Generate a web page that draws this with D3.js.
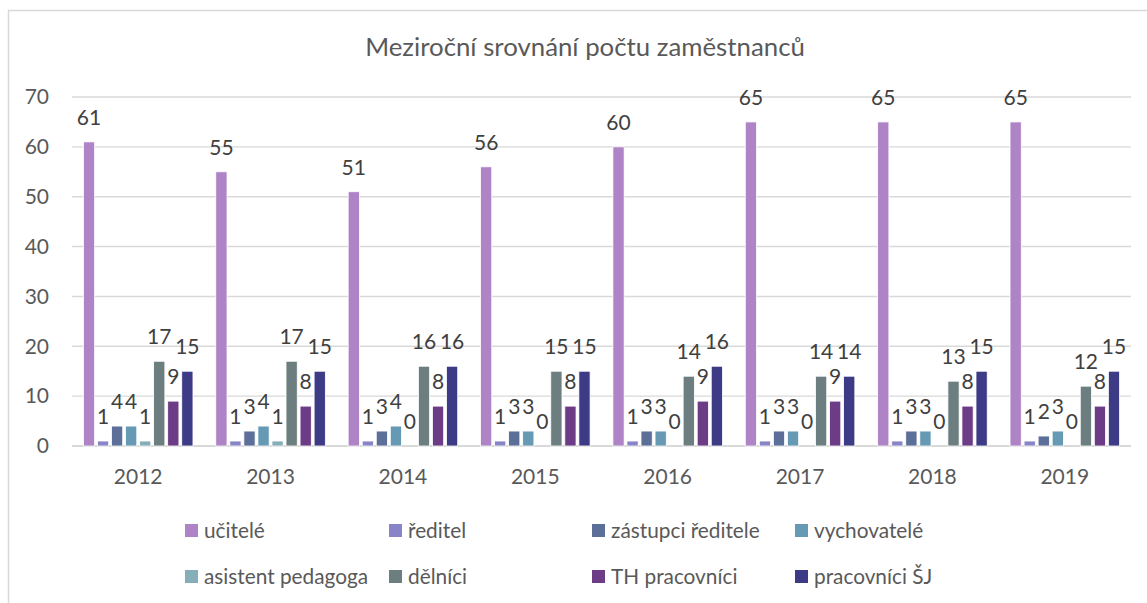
<!DOCTYPE html>
<html>
<head>
<meta charset="utf-8">
<script src="https://cdn.jsdelivr.net/npm/d3@7"></script>
<style>
  body { margin: 0; background: #fff; }
  svg { display: block; font-family: Lato, "Open Sans", sans-serif; }
</style>
</head>
<body>
<svg id="chart" width="1147" height="603"></svg>
<script>
let years = ["2012", "2013", "2014", "2015", "2016", "2017", "2018", "2019"];
let seriesNames = ["učitelé", "ředitel", "zástupci ředitele", "vychovatelé",
	"asistent pedagoga", "dělníci", "TH pracovníci", "pracovníci ŠJ"];
let ucitele = [61, 55, 51, 56, 60, 65, 65, 65];
let reditel = [1, 1, 1, 1, 1, 1, 1, 1];
let zastupci = [4, 3, 3, 3, 3, 3, 3, 2];
let vychovatele = [4, 4, 4, 3, 3, 3, 3, 3];
let asistent = [1, 1, 0, 0, 0, 0, 0, 0];
let delnici = [17, 17, 16, 15, 14, 14, 13, 12];
let thPracovnici = [9, 8, 8, 8, 9, 9, 8, 8];
let pracovniciSJ = [15, 15, 16, 15, 16, 14, 15, 15];
let yTicks = [0, 10, 20, 30, 40, 50, 60, 70];
let colors = ["#ae84c6", "#8984c8", "#5b6f98", "#6699b3", "#85aeb8", "#6d7e80", "#6d3c86", "#3e3b86"];

let allSeries = [ucitele, reditel, zastupci, vychovatele, asistent, delnici, thPracovnici, pracovniciSJ];

let svg = d3.select("#chart");

// outer chart border (runs off the right/bottom edge)
svg.append("rect")
	.attr("x", 8.5).attr("y", 10.5)
	.attr("width", 1200).attr("height", 700)
	.attr("fill", "none")
	.attr("stroke", "#d9d9d9")
	.attr("stroke-width", 1.5);

svg.append("text")
	.attr("x", 585).attr("y", 56)
	.attr("text-anchor", "middle")
	.attr("font-size", 25.8)
	.attr("fill", "#595959")
	.text("Meziroční srovnání počtu zaměstnanců");

let plot = { left: 72, right: 1131, top: 97, bottom: 446 };

let y = d3.scaleLinear().domain([0, 70]).range([plot.bottom, plot.top]);
let x0 = d3.scaleBand().domain(years).range([plot.left, plot.right]).padding(0);
let x1 = d3.scaleBand().domain(d3.range(seriesNames.length))
	.range([10, x0.bandwidth() - 10])
	.paddingInner(0.2).paddingOuter(0.1);

// gridlines
svg.append("g")
	.selectAll("line")
	.data(yTicks)
	.enter().append("line")
	.attr("x1", plot.left).attr("x2", plot.right)
	.attr("y1", d => y(d)).attr("y2", d => y(d))
	.attr("stroke", "#d9d9d9")
	.attr("stroke-width", (d) => d === 0 ? 1.8 : 1.4);

// y labels
svg.append("g")
	.selectAll("text")
	.data(yTicks)
	.enter().append("text")
	.attr("x", 49).attr("y", d => y(d))
	.attr("dy", "0.35em")
	.attr("text-anchor", "end")
	.attr("font-size", 21)
	.attr("fill", "#595959")
	.text(d => d);

// x labels
svg.append("g")
	.selectAll("text")
	.data(years)
	.enter().append("text")
	.attr("x", d => x0(d) + x0.bandwidth() / 2)
	.attr("y", 477)
	.attr("dy", "0.35em")
	.attr("text-anchor", "middle")
	.attr("font-size", 21)
	.attr("fill", "#595959")
	.text(d => d);

// bars + labels
let groups = svg.append("g")
	.selectAll(".year")
	.data(years)
	.enter().append("g")
	.attr("class", "year")
	.attr("transform", d => "translate(" + x0(d) + ",0)");

let cells = groups.selectAll(".cell")
	.data((d, i) => allSeries.map((s, k) => ({ k: k, v: s[i] })))
	.enter().append("g")
	.attr("class", "cell");

cells.append("rect")
	.attr("x", d => x1(d.k))
	.attr("width", x1.bandwidth())
	.attr("y", d => y(d.v))
	.attr("height", d => y(0) - y(d.v))
	.attr("fill", d => colors[d.k])
	.attr("stroke", "#fff")
	.attr("stroke-width", 0.8);

cells.append("text")
	.attr("x", d => x1(d.k) + x1.bandwidth() / 2)
	.attr("y", d => y(d.v) - 17)
	.attr("text-anchor", "middle")
	.attr("font-size", 21)
	.attr("fill", "#404040")
	.text(d => d.v);

// legend
let legendCols = [185, 389, 592, 795];
let legendRows = [531, 577];
let legend = svg.append("g")
	.selectAll(".legend")
	.data(seriesNames)
	.enter().append("g")
	.attr("class", "legend")
	.attr("transform", (d, i) => "translate(" + legendCols[i % 4] + "," + legendRows[Math.floor(i / 4)] + ")");

legend.append("rect")
	.attr("x", 0).attr("y", -7)
	.attr("width", 13).attr("height", 13)
	.attr("fill", (d, i) => colors[i]);

legend.append("text")
	.attr("x", 19).attr("y", 0)
	.attr("dy", "0.35em")
	.attr("font-size", 20.8)
	.attr("fill", "#595959")
	.text(d => d);
</script>
</body>
</html>
